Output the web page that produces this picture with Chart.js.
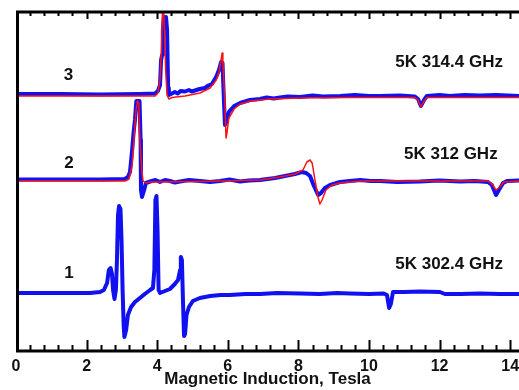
<!DOCTYPE html>
<html>
<head>
<meta charset="utf-8">
<script src="https://cdn.jsdelivr.net/npm/chart.js@4.4.1/dist/chart.umd.min.js"></script>
<style>
  html, body { margin: 0; padding: 0; background: #fff; overflow: hidden; }
  #wrap { width: 519px; height: 390px; }
</style>
</head>
<body>
<div id="wrap"><canvas id="epr"></canvas></div>
<script>
// field axis, Tesla
const fieldTicks = [0, 2, 4, 6, 8, 10, 12, 14];

// spectrum 3 (5K 314.4 GHz), measured and simulated
const field3 = [0, 1.25, 2.38, 3.51, 3.94, 4.02, 4.08, 4.11, 4.14, 4.16, 4.19, 4.25, 4.28, 4.31, 4.33, 4.39, 4.50, 4.58, 4.66, 4.79, 4.90, 4.98, 5.07, 5.20, 5.35, 5.45, 5.55, 5.67, 5.75, 5.81, 5.85, 5.89, 5.92, 5.96, 6.03, 6.18, 6.35, 6.63, 6.91, 7.10, 7.30, 7.48, 7.70, 8.05, 8.40, 8.70, 9.18, 9.60, 10.00, 10.31, 10.88, 11.30, 11.39, 11.47, 11.56, 11.64, 12.00, 12.29, 12.70, 13.14, 13.60, 14.25];
const meas3 = [25.7, 25.7, 25.65, 25.7, 25.75, 26.0, 26.6, 29.1, 29.6, 32.1, 33.4, 33.4, 32.1, 26.3, 25.6, 25.7, 25.9, 25.75, 26.0, 25.95, 26.1, 25.95, 26.05, 26.2, 26.3, 26.55, 26.7, 27.4, 28.1, 28.9, 28.8, 25.1, 22.6, 22.9, 23.9, 24.5, 24.8, 25.1, 25.2, 25.35, 25.25, 25.35, 25.45, 25.4, 25.55, 25.45, 25.5, 25.6, 25.5, 25.5, 25.55, 25.45, 25.2, 24.5, 25.1, 25.5, 25.6, 25.5, 25.6, 25.55, 25.6, 25.5];
const simField3 = [0, 2.38, 3.94, 4.02, 4.08, 4.12, 4.15, 4.18, 4.21, 4.24, 4.28, 4.33, 4.42, 4.79, 5.21, 5.50, 5.67, 5.75, 5.81, 5.84, 5.86, 5.92, 5.95, 5.98, 6.03, 6.18, 6.35, 6.63, 7.20, 8.05, 9.46, 11.30, 11.39, 11.47, 11.56, 11.64, 14.25];
const sim3 = [25.5, 25.5, 25.5, 25.8, 27.1, 30.1, 33.9, 34.0, 32.1, 28.1, 25.6, 25.2, 25.35, 25.5, 25.8, 26.3, 27.1, 27.9, 29.1, 29.8, 29.1, 24.6, 21.3, 21.9, 23.3, 24.2, 24.7, 25.0, 25.2, 25.3, 25.35, 25.35, 25.1, 24.4, 25.0, 25.35, 25.35];

// spectrum 2 (5K 312 GHz), measured and simulated
const field2 = [0, 1.25, 2.38, 3.09, 3.17, 3.23, 3.29, 3.33, 3.37, 3.41, 3.50, 3.53, 3.54, 3.57, 3.63, 3.68, 3.80, 3.95, 4.08, 4.22, 4.36, 4.50, 4.65, 4.90, 5.21, 5.50, 5.78, 6.05, 6.35, 6.60, 6.91, 7.34, 7.62, 7.90, 8.10, 8.22, 8.33, 8.44, 8.56, 8.64, 8.75, 8.90, 9.18, 9.46, 9.75, 10.05, 10.31, 10.80, 11.44, 12.00, 12.58, 13.00, 13.37, 13.48, 13.60, 13.68, 13.80, 13.91, 14.25];
const meas2 = [17.15, 17.15, 17.15, 17.2, 17.4, 17.9, 20.1, 21.8, 23.1, 25.0, 25.0, 21.1, 16.1, 15.4, 16.1, 16.8, 16.95, 17.1, 16.9, 17.1, 17.0, 16.85, 16.95, 17.1, 17.0, 16.9, 17.0, 17.15, 16.95, 17.05, 17.1, 17.3, 17.5, 17.7, 17.9, 17.8, 17.5, 16.5, 15.6, 15.8, 16.3, 16.6, 16.9, 17.0, 17.1, 17.0, 17.0, 16.9, 16.95, 17.05, 16.95, 17.0, 16.9, 16.6, 15.6, 16.1, 16.8, 17.0, 17.05];
const simField2 = [0, 2.38, 3.09, 3.20, 3.29, 3.34, 3.40, 3.44, 3.48, 3.51, 3.56, 3.60, 3.68, 3.80, 5.21, 6.91, 7.48, 7.90, 8.13, 8.24, 8.33, 8.39, 8.47, 8.56, 8.61, 8.67, 8.78, 8.95, 9.18, 9.75, 11.44, 13.37, 13.48, 13.60, 13.71, 13.82, 14.25];
const sim2 = [17.0, 17.0, 17.0, 17.2, 18.6, 21.1, 24.1, 25.0, 24.8, 21.1, 18.1, 17.0, 16.8, 16.9, 16.95, 17.1, 17.4, 17.7, 18.1, 18.9, 19.1, 18.8, 17.1, 15.3, 14.7, 15.1, 16.1, 16.6, 16.8, 17.0, 17.0, 17.0, 16.7, 16.1, 16.4, 16.9, 17.0];

// spectrum 1 (5K 302.4 GHz), measured only
const field1 = [0, 1.25, 2.10, 2.38, 2.49, 2.58, 2.63, 2.68, 2.72, 2.75, 2.79, 2.83, 2.86, 2.89, 2.92, 2.96, 2.99, 3.02, 3.05, 3.07, 3.12, 3.17, 3.26, 3.37, 3.51, 3.65, 3.80, 3.88, 3.92, 3.95, 3.98, 4.01, 4.04, 4.08, 4.22, 4.36, 4.50, 4.59, 4.65, 4.67, 4.70, 4.73, 4.76, 4.79, 4.83, 4.90, 5.01, 5.21, 5.50, 5.80, 6.06, 6.50, 6.91, 7.40, 8.05, 8.60, 9.10, 9.46, 10.00, 10.42, 10.51, 10.57, 10.62, 10.68, 11.00, 11.44, 12.01, 12.15, 12.60, 13.14, 13.70, 14.25];
const meas1 = [5.8, 5.8, 5.8, 5.9, 6.1, 6.8, 8.1, 8.3, 7.7, 6.1, 5.2, 6.1, 9.1, 13.6, 14.5, 14.2, 11.1, 6.1, 2.6, 1.4, 2.1, 3.6, 4.4, 4.9, 5.3, 5.7, 6.1, 6.3, 8.1, 15.1, 15.5, 12.1, 6.1, 5.8, 6.0, 6.2, 6.7, 7.1, 8.1, 9.4, 9.1, 5.1, 1.5, 1.7, 3.6, 4.4, 5.0, 5.3, 5.5, 5.6, 5.6, 5.7, 5.7, 5.8, 5.75, 5.7, 5.8, 5.75, 5.7, 5.75, 5.6, 4.3, 4.7, 5.9, 5.9, 5.95, 5.9, 5.7, 5.7, 5.75, 5.7, 5.7];

// text labels: trace numbers and conditions
const labelText = ["3", "2", "1", "5K 314.4 GHz", "5K 312 GHz", "5K 302.4 GHz"];
const labelField = [1.49, 1.50, 1.50, 12.27, 12.32, 12.27];
const labelLevel = [27.6, 18.8, 7.8, 28.9, 19.65, 8.7];

const BLUE = "#1010f0";
const RED = "#ff1010";

const pts = (xs, ys) => xs.map((x, i) => ({ x: x, y: ys[i] }));

function trace(xs, ys, color, width, order) {
  return {
    data: pts(xs, ys),
    borderColor: color,
    borderWidth: width,
    pointRadius: 0,
    tension: 0,
    fill: false,
    order: order,
    borderJoinStyle: "round",
    borderCapStyle: "round",
  };
}

// frame with inward ticks on the top and bottom axes, plus the text labels
const framePlugin = {
  id: "frame",
  afterDraw(chart) {
    const { ctx, chartArea: a, scales } = chart;
    const x = scales.x;
    ctx.save();
    ctx.strokeStyle = "#000";
    ctx.lineWidth = 3;
    ctx.beginPath();
    ctx.moveTo(a.left + 1.5, a.top);
    ctx.lineTo(a.left + 1.5, a.bottom + 1.5);
    ctx.moveTo(a.left, a.top + 1);
    ctx.lineTo(a.right + 2, a.top + 1);
    ctx.moveTo(a.left, a.bottom);
    ctx.lineTo(a.right + 2, a.bottom);
    ctx.stroke();
    ctx.lineWidth = 2;
    ctx.beginPath();
    for (let i = 1; i * 0.4 <= x.max; i++) {
      const v = i * 0.4;
      const major = i % 5 === 0;
      const px = Math.round(x.getPixelForValue(v)) + 0.5;
      ctx.moveTo(px, a.top + 1);
      ctx.lineTo(px, a.top + (major ? 8 : 5));
      ctx.moveTo(px, a.bottom);
      ctx.lineTo(px, a.bottom - (major ? 11 : 6));
    }
    ctx.stroke();

    ctx.fillStyle = "#111";
    ctx.font = "bold 17px 'Liberation Sans', Arial, sans-serif";
    ctx.textAlign = "center";
    ctx.textBaseline = "middle";
    labelText.forEach((t, i) => {
      ctx.fillText(t, x.getPixelForValue(labelField[i]), scales.y.getPixelForValue(labelLevel[i]));
    });
    ctx.restore();
  },
};

new Chart(document.getElementById("epr"), {
  type: "line",
  data: {
    datasets: [
      trace(simField3, sim3, RED, 1.5, 0),
      trace(field3, meas3, BLUE, 4, 1),
      trace(simField2, sim2, RED, 1.5, 0),
      trace(field2, meas2, BLUE, 4, 1),
      trace(field1, meas1, BLUE, 4, 1),
    ],
  },
  options: {
    responsive: true,
    maintainAspectRatio: false,
    animation: false,
    devicePixelRatio: 1,
    layout: { padding: { left: 16, top: 11, right: 0, bottom: 0 } },
    plugins: { legend: { display: false }, tooltip: { enabled: false } },
    scales: {
      x: {
        type: "linear",
        min: 0,
        max: 14.25,
        grid: { display: false, drawTicks: false },
        border: { display: false },
        afterBuildTicks: (s) => { s.ticks = fieldTicks.map((v) => ({ value: v })); },
        afterFit: (s) => { s.paddingLeft = 0; s.paddingRight = 0; s.height = 39; },
        ticks: {
          color: "#111",
          padding: 6,
          maxRotation: 0,
          autoSkip: false,
          font: { family: "'Liberation Sans', Arial, sans-serif", size: 16, weight: "bold" },
        },
        title: {
          display: true,
          text: "Magnetic Induction, Tesla",
          color: "#111",
          padding: { top: 0, bottom: 0 },
          font: { family: "'Liberation Sans', Arial, sans-serif", size: 17, weight: "bold" },
        },
      },
      y: {
        display: false,
        min: 0,
        max: 34,
      },
    },
  },
  plugins: [framePlugin],
});
</script>
</body>
</html>
